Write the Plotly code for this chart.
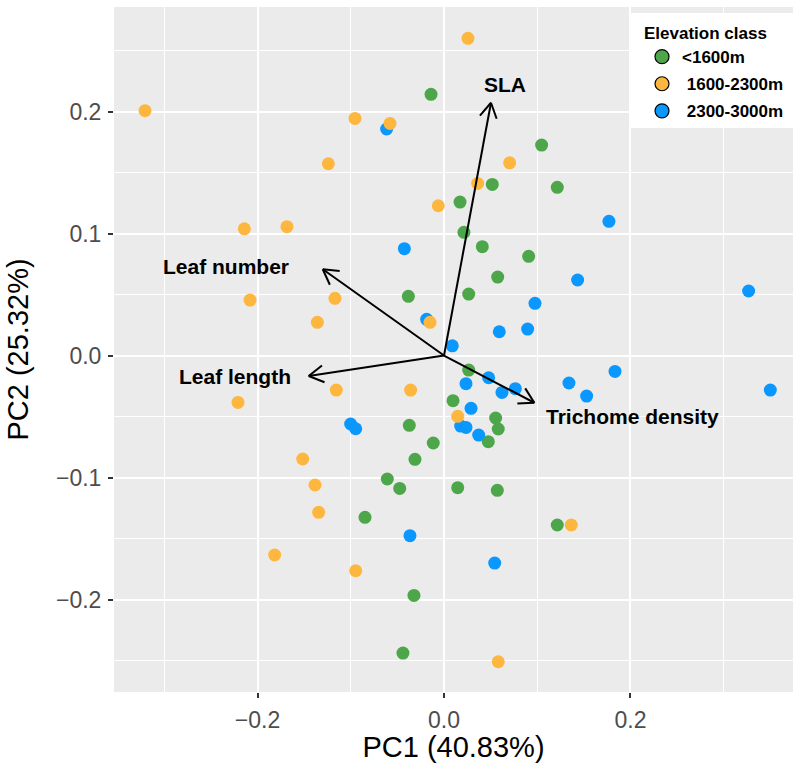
import plotly.graph_objects as go
import math

# ---------------- data ----------------
green_x = [-0.0139, 0.1047, 0.0518, 0.1215, 0.0172, 0.0214, 0.0411, 0.0908, 0.0576, -0.0382,
           0.0265, 0.0265, 0.0097, 0.0554, 0.0582, 0.0475, -0.0372, -0.0115, -0.0311, -0.0608,
           -0.0475, 0.0147, 0.0572, -0.0847, 0.1215, -0.0322, -0.0440]
green_y = [0.2141, 0.1725, 0.1403, 0.1379, 0.1258, 0.1010, 0.0892, 0.0813, 0.0643, 0.0485,
           0.0504, -0.0119, -0.0370, -0.0512, -0.0602, -0.0706, -0.0572, -0.0717, -0.0851, -0.1012,
           -0.1089, -0.1083, -0.1105, -0.1326, -0.1389, -0.1966, -0.2439]

orange_x = [-0.3206, 0.0257, -0.0954, -0.0579, -0.1240, 0.0704, 0.0361, -0.0061, -0.2141, -0.1684,
            -0.2080, -0.1169, -0.1358, -0.0150, -0.1155, -0.0358, -0.2209, 0.0147, -0.1515, -0.1383,
            -0.1344, 0.1365, -0.1816, -0.0947, 0.0582]
orange_y = [0.2007, 0.2600, 0.1944, 0.1903, 0.1572, 0.1580, 0.1411, 0.1228, 0.1039, 0.1056,
            0.0455, 0.0469, 0.0272, 0.0272, -0.0283, -0.0283, -0.0384, -0.0498, -0.0848, -0.1061,
            -0.1285, -0.1389, -0.1635, -0.1764, -0.2510]

blue_x = [-0.0615, 0.1769, -0.0425, 0.1433, 0.3267, 0.0976, -0.0186, 0.0897, 0.0593, 0.0089,
          0.1834, 0.0479, 0.0236, 0.1340, 0.0765, 0.0622, 0.3500, 0.1530, 0.0290, -0.1001,
          -0.0947, 0.0179, 0.0236, 0.0372, -0.0365, 0.0544]
blue_y = [0.1857, 0.1100, 0.0876, 0.0619, 0.0529, 0.0428, 0.0297, 0.0217, 0.0195, 0.0080,
          -0.0130, -0.0182, -0.0231, -0.0225, -0.0272, -0.0302, -0.0283, -0.0332, -0.0433, -0.0561,
          -0.0600, -0.0578, -0.0589, -0.0652, -0.1477, -0.1701]

group_names = ["<1600m", " 1600-2300m", " 2300-3000m"]

# loading arrows (PC1, PC2) and label positions
traits = ["SLA", "Leaf number", "Leaf length", "Trichome density"]
load_x = [0.0504, -0.1300, -0.1451, 0.0969]
load_y = [0.2072, 0.0707, -0.0168, -0.0387]
label_x = [0.0654, -0.2338, -0.2241, 0.2023]
label_y = [0.2218, 0.0728, -0.0174, -0.0502]

x_ticks = [-0.2, 0.0, 0.2]
y_ticks = [-0.2, -0.1, 0.0, 0.1, 0.2]

# ---------------- layout constants ----------------
W, H = 794, 763
ML, MR, MT, MB = 114, 1, 7, 71
XR = [-0.3539, 0.3743]
YR = [-0.2758, 0.2857]
PW, PH = W - ML - MR, H - MT - MB
SX = PW / (XR[1] - XR[0])
SY = PH / (YR[1] - YR[0])

COL = {"g": "#4DA74A", "o": "#FDB73E", "b": "#0A98FE"}
FONT = "Liberation Sans, Arial, Helvetica"

fig = go.Figure()

# data points (plot), hidden from legend
for xs, ys, c in [(green_x, green_y, COL["g"]), (blue_x, blue_y, COL["b"]), (orange_x, orange_y, COL["o"])]:
    fig.add_trace(go.Scatter(x=xs, y=ys, mode="markers", showlegend=False, hoverinfo="skip",
                             marker=dict(size=13, color=c, line=dict(width=0))))

# legend entries (outlined markers as in the reference key)
for i, (name, c) in enumerate(zip(group_names, [COL["g"], COL["o"], COL["b"]])):
    fig.add_trace(go.Scatter(x=[None], y=[None], mode="markers", name=name, legendgroup="g%d" % i,
                             marker=dict(size=14, color=c, line=dict(width=1.2, color="black"))))

# arrows with open heads computed in pixel space
ax, ay = [], []
L, th = 17.0, math.radians(30)
for lx, ly in zip(load_x, load_y):
    ax += [0, lx, None]
    ay += [0, ly, None]
    px, py = lx * SX, ly * SY
    n = math.hypot(px, py)
    bx, by = -px / n, -py / n
    for s in (1, -1):
        rx = bx * math.cos(s * th) - by * math.sin(s * th)
        ry = bx * math.sin(s * th) + by * math.cos(s * th)
        ax += [lx + L * rx / SX, lx, None]
        ay += [ly + L * ry / SY, ly, None]
fig.add_trace(go.Scatter(x=ax, y=ay, mode="lines", showlegend=False, hoverinfo="skip",
                         line=dict(color="black", width=2)))

for t, x, y in zip(traits, label_x, label_y):
    fig.add_annotation(x=x, y=y, text="<b>%s</b>" % t, showarrow=False,
                       font=dict(family=FONT, size=21, color="black"),
                       xanchor="center", yanchor="middle")

# legend background box
fig.add_shape(type="rect", xref="paper", yref="paper",
              x0=(630 - ML) / PW, x1=1.0, y0=(H - MB - 128) / PH, y1=(H - MB - 13) / PH,
              fillcolor="white", line=dict(width=0), layer="above")

axis_common = dict(showgrid=True, gridcolor="white", gridwidth=2, zeroline=False,
                   ticks="outside", ticklen=5, tickwidth=2, tickcolor="#333333",
                   tickfont=dict(family=FONT, size=23, color="#4D4D4D"),
                   tickformat=".1f", showline=False, automargin=False)

fig.update_layout(
    width=W, height=H,
    margin=dict(l=ML, r=MR, t=MT, b=MB, autoexpand=False),
    paper_bgcolor="white", plot_bgcolor="#EBEBEB",
    font=dict(family=FONT, color="black"),
    xaxis=dict(range=XR, tickvals=x_ticks, **axis_common, ticklabelstandoff=2,
               minor=dict(dtick=0.1, tick0=0, showgrid=True, gridcolor="white", gridwidth=1, ticks=""),
               title=dict(text="PC1 (40.83%)", font=dict(size=29, color="black"), standoff=2)),
    yaxis=dict(range=YR, tickvals=y_ticks, **axis_common, ticklabelstandoff=2,
               minor=dict(dtick=0.05, tick0=0, showgrid=True, gridcolor="white", gridwidth=1, ticks=""),
               title=dict(text="PC2 (25.32%)", font=dict(size=29, color="black"), standoff=18)),
    legend=dict(title=dict(text="<b>Elevation class</b>", font=dict(size=17)),
                font=dict(size=17, family=FONT, color="black", weight="bold"),
                x=(642 - ML) / PW, xanchor="left", y=(H - MB - 17) / PH, yanchor="top",
                bgcolor="rgba(0,0,0,0)", tracegroupgap=2, traceorder="grouped", itemsizing="trace"),
    showlegend=True,
)

fig.write_html("out.html", config={"displayModeBar": False},
               post_script="document.body.style.margin='0px';")
